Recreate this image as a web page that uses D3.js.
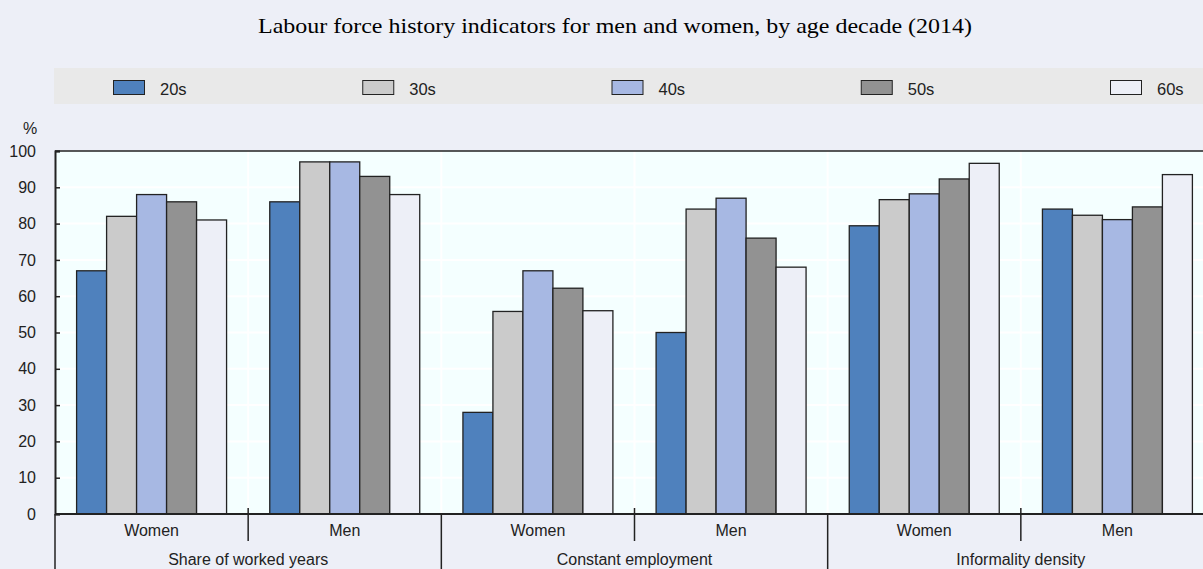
<!DOCTYPE html>
<html><head><meta charset="utf-8">
<script src="https://cdn.jsdelivr.net/npm/d3@7"></script>
<style>
html,body{margin:0;padding:0;background:#EDEFF7;}
svg{display:block;}
</style></head>
<body>
<svg id="chart" width="1203" height="569"></svg>
<script>
const title = "Labour force history indicators for men and women, by age decade (2014)";
const categories = ["Share of worked years", "Constant employment", "Informality density"];
const sexes = ["Women", "Men"];
const ages = ["20s", "30s", "40s", "50s", "60s"];
const colors = ["#4F81BD", "#CBCBCB", "#A7B8E3", "#929292", "#EDEFF7"];
const yTicks = [0, 10, 20, 30, 40, 50, 60, 70, 80, 90, 100];
// values per group (category x sex), by age decade
const shareWomen = [67, 82, 88, 86, 81];
const shareMen = [86, 97, 97, 93, 88];
const constWomen = [28, 55.8, 67, 62.2, 56];
const constMen = [50, 84, 87, 76, 68];
const inforWomen = [79.4, 86.6, 88.2, 92.3, 96.6];
const inforMen = [84.0, 82.3, 81.1, 84.6, 93.5];

const groups = [
  {cat: categories[0], sex: sexes[0], vals: shareWomen},
  {cat: categories[0], sex: sexes[1], vals: shareMen},
  {cat: categories[1], sex: sexes[0], vals: constWomen},
  {cat: categories[1], sex: sexes[1], vals: constMen},
  {cat: categories[2], sex: sexes[0], vals: inforWomen},
  {cat: categories[2], sex: sexes[1], vals: inforMen}
];
groups.forEach((g,i)=>g.key=i);

const svg = d3.select("#chart");
const W = 1203, H = 569;
const pL = 55, pR = 1214, pT = 151, pB = 514;

svg.append("rect").attr("width", W).attr("height", H).attr("fill", "#EDEFF7");

// title
svg.append("text").attr("x", 258).attr("y", 32.5)
  .attr("font-family", "Liberation Serif, Times New Roman, serif").attr("font-size", 22)
  .attr("textLength", 714).attr("lengthAdjust", "spacingAndGlyphs")
  .attr("fill", "#000").text(title);

// legend band
svg.append("rect").attr("x", 54).attr("y", 68).attr("width", W - 54).attr("height", 36).attr("fill", "#E9E9E9");
const legendX = d3.scalePoint().domain(ages).range([113, 1110]);
const lg = svg.append("g").selectAll("g").data(ages).join("g")
  .attr("transform", d => `translate(${legendX(d)},80)`);
lg.append("rect").attr("x", 0.5).attr("y", 0.5).attr("width", 31).attr("height", 14)
  .attr("fill", (d,i) => colors[i]).attr("stroke", "#222").attr("stroke-width", 1);
lg.append("text").attr("x", 47).attr("y", 14.5).attr("font-family", "Liberation Sans, Arial, sans-serif")
  .attr("font-size", 16.5).attr("fill", "#222").text(d => d);

// scales
const x0 = d3.scaleBand().domain(groups.map(g => g.key)).range([pL, pR]).padding(0);
const x1 = d3.scaleBand().domain(ages).range([0, x0.bandwidth()]).paddingInner(0).paddingOuter(0.72);
const y = d3.scaleLinear().domain([0, 100]).range([pB, pT]);

// plot bg
svg.append("rect").attr("x", pL).attr("y", pT).attr("width", pR - pL).attr("height", pB - pT).attr("fill", "#F4FFFF");

// gridlines
svg.append("g").selectAll("line").data(yTicks.slice(1, -1)).join("line")
  .attr("x1", pL).attr("x2", pR).attr("y1", d => y(d)).attr("y2", d => y(d))
  .attr("stroke", "#FFFFFF").attr("stroke-width", 2);
svg.append("g").selectAll("line").data(groups.slice(1)).join("line")
  .attr("x1", d => x0(d.key)).attr("x2", d => x0(d.key)).attr("y1", pT).attr("y2", pB)
  .attr("stroke", "#FFFFFF").attr("stroke-width", 2);

// bars
const gg = svg.append("g").selectAll("g").data(groups).join("g")
  .attr("transform", d => `translate(${x0(d.key)},0)`);
gg.selectAll("rect").data(d => d.vals.map((v,i) => ({age: ages[i], v, i}))).join("rect")
  .attr("x", d => x1(d.age)).attr("y", d => y(d.v))
  .attr("width", x1.bandwidth()).attr("height", d => y(0) - y(d.v))
  .attr("fill", d => colors[d.i]).attr("stroke", "#222").attr("stroke-width", 1.3);

// top border
svg.append("line").attr("x1", pL).attr("x2", pR).attr("y1", pT).attr("y2", pT)
  .attr("stroke", "#222").attr("stroke-width", 1.5);

// y axis
const yAxis = d3.axisLeft(y).tickValues(yTicks).tickSize(-5).tickPadding(19);
const ya = svg.append("g").attr("transform", `translate(${pL},0)`).call(yAxis);
ya.select(".domain").attr("stroke", "#222").attr("stroke-width", 2);
ya.selectAll(".tick line").attr("stroke", "#222").attr("stroke-width", 1.5);
ya.selectAll(".tick text").attr("font-family", "Liberation Sans, Arial, sans-serif").attr("font-size", 16).attr("fill", "#222");
svg.append("text").attr("x", 30).attr("y", 134).attr("text-anchor", "middle")
  .attr("font-family", "Liberation Sans, Arial, sans-serif").attr("font-size", 16).attr("fill", "#222").text("%");

// x axis
svg.append("line").attr("x1", pL).attr("x2", pR).attr("y1", pB).attr("y2", pB)
  .attr("stroke", "#222").attr("stroke-width", 2);
// sex labels
svg.append("g").selectAll("text").data(groups).join("text")
  .attr("x", d => x0(d.key) + x0.bandwidth()/2).attr("y", 536).attr("text-anchor", "middle")
  .attr("font-family", "Liberation Sans, Arial, sans-serif").attr("font-size", 16).attr("fill", "#222")
  .text(d => d.sex);
// short separators between sexes
svg.append("g").selectAll("line").data(groups.filter(g => g.sex === "Men")).join("line")
  .attr("x1", d => x0(d.key)).attr("x2", d => x0(d.key)).attr("y1", 508).attr("y2", 541)
  .attr("stroke", "#222").attr("stroke-width", 1.5);
// long separators between categories
svg.append("g").selectAll("line").data(groups.filter(g => g.sex === "Women")).join("line")
  .attr("x1", d => x0(d.key)).attr("x2", d => x0(d.key)).attr("y1", pB).attr("y2", H)
  .attr("stroke", "#222").attr("stroke-width", 1.5);
// category labels
svg.append("g").selectAll("text").data(categories).join("text")
  .attr("x", (d,i) => x0(i*2) + x0.bandwidth()).attr("y", 565).attr("text-anchor", "middle")
  .attr("font-family", "Liberation Sans, Arial, sans-serif").attr("font-size", 16).attr("fill", "#222")
  .text(d => d);
</script>
</body></html>
